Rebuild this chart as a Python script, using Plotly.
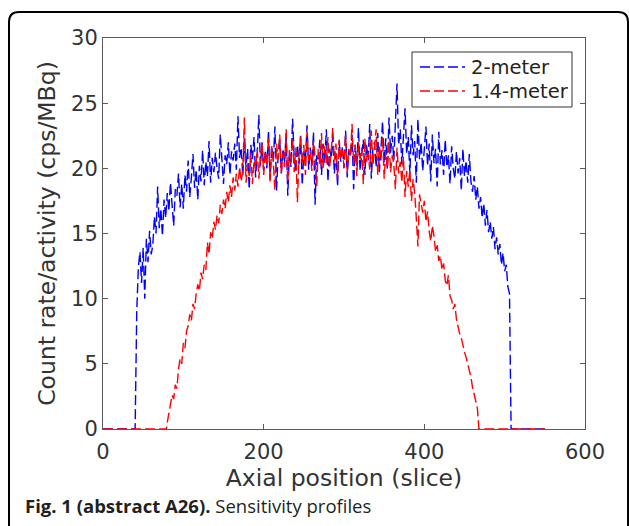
import plotly.graph_objects as go

# ---------------- data ----------------
# 2-meter scanner: slices 42..506 step 2 (zero before 40 and after 508)
blue_start, blue_step = 42, 2
blue_vals = [
    9.0, 12.4, 13.6, 11.2, 13.9, 10.0, 14.6, 12.8, 15.2, 13.4,
    14.1, 16.3, 15.0, 18.6, 15.4, 16.9, 14.8, 17.6, 16.2, 18.1,
    16.7, 18.9, 17.2, 15.6, 18.4, 17.9, 19.6, 17.0, 18.8, 16.9,
    19.5, 18.2, 20.6, 17.8, 19.3, 21.1, 18.5, 19.9, 17.6, 20.2,
    19.0, 21.4, 18.7, 20.5, 19.4, 22.1, 18.9, 20.8, 19.7, 21.2,
    20.0, 19.2, 22.6, 20.4, 18.8, 21.0, 20.3, 22.0, 19.5, 21.3,
    20.6, 21.9, 19.9, 24.0, 20.8, 21.6, 19.4, 22.3, 20.1, 21.5,
    18.4, 21.8, 20.7, 22.4, 19.3, 21.1, 24.1, 20.2, 22.0, 19.8,
    21.4, 20.0, 22.9, 19.1, 21.7, 20.5, 23.2, 18.3, 21.0, 22.2,
    19.6, 21.5, 20.4, 22.7, 17.9, 21.2, 20.1, 23.8, 20.9, 19.7,
    21.8, 20.3, 22.5, 18.7, 21.3, 20.6, 23.3, 19.9, 21.6, 20.2,
    22.8, 17.2, 21.1, 20.7, 22.2, 19.5, 21.9, 20.4, 23.0, 19.0,
    21.5, 20.8, 22.4, 19.6, 21.2, 18.6, 22.1, 20.5, 21.7, 20.0,
    22.9, 19.3, 21.4, 20.9, 22.6, 18.4, 21.8, 20.2, 23.1, 19.8,
    21.3, 22.2, 19.5, 21.9, 20.6, 23.4, 19.2, 21.6, 22.0, 20.1,
    22.7, 19.7, 21.5, 23.6, 20.4, 22.3, 19.9, 23.9, 21.2, 22.5,
    20.6, 24.2, 26.5, 21.8, 23.0, 20.3, 22.6, 24.6, 21.1, 22.4,
    19.6, 23.3, 21.0, 22.1, 18.9, 23.8, 20.7, 22.0, 19.8, 21.6,
    23.2, 20.2, 21.9, 19.0, 22.6, 20.4, 21.5, 18.6, 22.8, 20.3,
    21.4, 19.5, 22.2, 20.1, 21.0, 18.8, 21.7, 20.0, 19.2, 21.3,
    19.6, 20.8, 18.3, 21.5, 19.4, 20.6, 18.9, 21.1, 19.0, 18.2,
    19.4, 17.6, 18.6, 16.9, 17.8, 16.2, 17.3, 15.6, 16.8, 15.1,
    15.9, 14.6, 15.5, 13.8, 14.7, 13.4, 14.2, 12.6, 13.5, 12.1,
    12.6, 10.9, 10.4,
]
blue_zero_before = [0, 40]
blue_zero_after = [508, 550]

# 1.4-meter scanner: slices 80..466 step 2 (zero before 79 and after 468)
red_start, red_step = 80, 2
red_vals = [
    0.5, 1.2, 2.0, 2.6, 2.3, 3.4, 3.1, 4.6, 5.4, 5.0,
    6.6, 6.2, 7.5, 7.9, 8.8, 8.3, 9.6, 9.2, 10.4, 11.1,
    10.6, 12.0, 11.5, 12.6, 12.2, 14.3, 13.4, 15.1, 14.6, 15.9,
    15.3, 16.4, 15.8, 17.2, 16.5, 17.6, 16.9, 18.2, 17.4, 18.7,
    17.8, 19.3, 18.3, 19.6, 18.6, 20.1, 19.0, 19.8, 23.9, 18.9,
    20.3, 19.4, 21.2, 18.8, 20.6, 19.9, 21.5, 19.2, 20.8, 22.0,
    19.5, 21.3, 20.2, 22.4, 19.0, 21.7, 20.5, 18.3, 21.9, 20.7,
    22.6, 19.6, 21.2, 20.1, 23.0, 18.9, 21.4, 20.4, 22.3, 19.7,
    21.6, 17.4, 21.0, 22.5, 20.3, 21.8, 19.5, 22.8, 20.6, 21.3,
    19.8, 22.1, 20.9, 18.6, 21.5, 20.2, 22.7, 19.9, 21.7, 20.4,
    22.4, 20.0, 21.2, 23.1, 20.6, 21.9, 19.3, 22.2, 20.8, 21.4,
    20.1, 22.6, 19.7, 21.5, 20.9, 23.4, 20.3, 21.8, 19.4, 22.0,
    20.7, 21.6, 18.8, 22.3, 20.5, 21.2, 19.9, 22.9, 20.2, 21.4,
    23.0, 19.5, 21.8, 20.6, 22.4, 19.2, 21.3, 20.0, 22.1, 19.7,
    21.0, 20.3, 18.4, 21.6, 19.6, 20.5, 18.9, 20.9, 17.8, 19.8,
    18.6, 19.9, 17.5, 19.2, 18.1, 16.2, 14.0, 18.0, 17.2, 16.6,
    17.5, 15.9, 16.7, 15.2, 14.4, 15.6, 14.8, 13.6, 14.1, 12.9,
    13.3, 12.2, 12.7, 11.4, 11.0, 11.8, 10.2, 9.9, 9.2, 9.6,
    8.4, 7.8, 7.3, 7.0, 6.3, 5.9, 5.5, 5.0, 4.3, 4.0,
    3.2, 2.6, 2.1, 1.6,
]
red_zero_before = [0, 79]
red_zero_after = [468, 550]

x_ticks = [0, 200, 400, 600]
y_ticks = [0, 5, 10, 15, 20, 25, 30]
series_names = ["2-meter", "1.4-meter"]
series_colors = ["#0000ff", "#ff0000"]
x_title = "Axial position (slice)"
y_title = "Count rate/activity (cps/MBq)"
caption_bold = "Fig. 1 (abstract A26)."
caption_rest = " Sensitivity profiles"

# ---------------- build ----------------
blue_x = blue_zero_before + [blue_start + blue_step * i for i in range(len(blue_vals))] + blue_zero_after
blue_y = [0] * len(blue_zero_before) + blue_vals + [0] * len(blue_zero_after)
red_x = red_zero_before + [red_start + red_step * i for i in range(len(red_vals))] + red_zero_after
red_y = [0] * len(red_zero_before) + red_vals + [0] * len(red_zero_after)

W, H = 629, 526
L, R, T, B = 103, 585, 38, 429  # plot area in pixels


def fx(px):
    return (px - L) / (R - L)


def fy(py):
    return (B - py) / (B - T)


AXFONT = "DejaVu Sans"
CAPFONT = "Open Sans"
AX = "#5a5a5a"
TXT = "#333333"
DASH = "10px,4px"
LW = 1.4

fig = go.Figure()
for xs, ys, name, col in [(blue_x, blue_y, series_names[0], series_colors[0]),
                          (red_x, red_y, series_names[1], series_colors[1])]:
    fig.add_trace(go.Scatter(x=xs, y=ys, mode="lines", name=name, showlegend=False,
                             line=dict(color=col, width=LW, dash=DASH)))

axis_common = dict(showline=True, linecolor=AX, linewidth=1, mirror="ticks",
                   ticks="inside", ticklen=5, tickcolor=AX, showgrid=False,
                   zeroline=False, tickfont=dict(family=AXFONT, size=21, color=TXT))
fig.update_xaxes(range=[0, 600], tickvals=x_ticks, ticklabelstandoff=4, **axis_common,
                 title=dict(text=x_title, font=dict(family=AXFONT, size=23.5, color=TXT), standoff=4))
fig.update_yaxes(range=[0, 30], tickvals=y_ticks, **axis_common,
                 title=dict(text=y_title, font=dict(family=AXFONT, size=23.5, color=TXT), standoff=8))

# rounded outer frame (open at bottom)
r = 10
frame = (f"M {fx(9)},{fy(540)} L {fx(9)},{fy(12 + r)} Q {fx(9)},{fy(12)} {fx(9 + r)},{fy(12)} "
         f"L {fx(628 - r)},{fy(12)} Q {fx(628)},{fy(12)} {fx(628)},{fy(12 + r)} L {fx(628)},{fy(540)}")
fig.add_shape(type="path", path=frame, xref="paper", yref="paper",
              line=dict(color="black", width=2))

# legend box drawn by hand (matches MATLAB legend geometry)
fig.add_shape(type="rect", xref="paper", yref="paper",
              x0=fx(412), x1=fx(572), y0=fy(107), y1=fy(52),
              line=dict(color="#333333", width=1), fillcolor="white", layer="above")
for i, (name, col) in enumerate(zip(series_names, series_colors)):
    yy = 67 + 24 * i
    fig.add_shape(type="line", xref="paper", yref="paper",
                  x0=fx(420), x1=fx(465), y0=fy(yy), y1=fy(yy),
                  line=dict(color=col, width=LW, dash=DASH), layer="above")
    fig.add_annotation(x=fx(469), y=fy(yy), xref="paper", yref="paper",
                       xanchor="left", yanchor="middle", showarrow=False, text=name,
                       font=dict(family=AXFONT, size=19.5, color="#222222"))

fig.add_annotation(x=fx(23), y=fy(505), xref="paper", yref="paper", xanchor="left", yanchor="middle",
                   showarrow=False, text=f"<b>{caption_bold}</b>{caption_rest}",
                   font=dict(family=CAPFONT, size=18.5, color="#231f20"))

fig.update_layout(
    width=W, height=H,
    margin=dict(l=L, r=W - R, t=T, b=H - B, pad=0),
    paper_bgcolor="white", plot_bgcolor="white",
    showlegend=False,
)

fig.write_html("out.html")
